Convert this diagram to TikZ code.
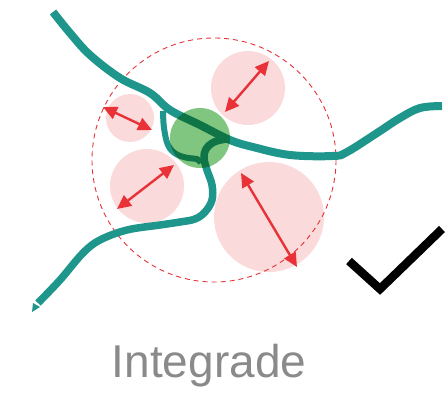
\documentclass[tikz,border=0pt]{standalone}
\usepackage{fontspec}
\setmainfont{Liberation Sans}
\usepackage{tikz}
\usetikzlibrary{arrows.meta}
\usepackage{xcolor}
\definecolor{roadteal}{RGB}{30,150,140}
\definecolor{blobgreen}{RGB}{128,198,128}
\definecolor{softpink}{RGB}{250,218,218}
\definecolor{gaugered}{RGB}{232,50,55}
\definecolor{labelgray}{RGB}{138,138,138}

\begin{document}
\begin{tikzpicture}[x=1pt, y=-1pt,
  road/.style={roadteal, line width=8pt},
  bubble/.style={fill=softpink},
  gauge/.style={gaugered, line width=2.4pt, {Triangle[length=14pt,width=13pt]}-{Triangle[length=14pt,width=13pt]}}]
\useasboundingbox (0,0) rectangle (446,406);
\begin{scope}[xshift=0cm, yshift=0cm]

\fill[bubble] (248,88) circle (37);
\fill[bubble] (130,118) circle (24);
\fill[bubble] (147,186) circle (37);
\fill[bubble] (269,217) circle (55);

\draw[gaugered, line width=0.9pt, dash pattern=on 5pt off 4pt] (214,160) circle (122);

\draw[road] plot[smooth, tension=0.6] coordinates {(53,12) (70,33) (90,55) (120,78) (150,93) (170,110) (200,125) (230,140) (253,147) (290,155) (333,156) (347,152) (377,133) (400,118) (420,108) (442,106)};
\draw[road, line width=6pt] plot[smooth, tension=0.6] coordinates {(163,111) (164,128) (168,145) (176,154) (188,158) (197,159) (201,163)};
\draw[road, line width=7.5pt] plot[smooth, tension=0.6] coordinates {(226,139) (214,142) (206,149) (204,158) (207,170) (212,185) (212,200) (205,212) (195,219) (180,222) (160,225) (127,230) (100,240) (83,253) (60,280) (38,303)};
\fill[roadteal] (33,303)--(40,307)--(32,312)--cycle;

\begin{scope}[blend mode=multiply]
\fill[blobgreen] (200,138) circle (30);
\end{scope}

\draw[gauge] (225,112)--(269,61);
\draw[gauge] (103,107)--(152,130);
\draw[gauge] (117,209)--(174,165);
\draw[gauge] (241,173)--(297,267);

\draw[black, line width=8.5pt, miter limit=10] (349,261)--(380,289)--(442,229);

\node (title) at (209,377) [anchor=base, labelgray, font=\fontsize{46}{50}\selectfont] {Integrade};

\end{scope}
\end{tikzpicture}
\end{document}
